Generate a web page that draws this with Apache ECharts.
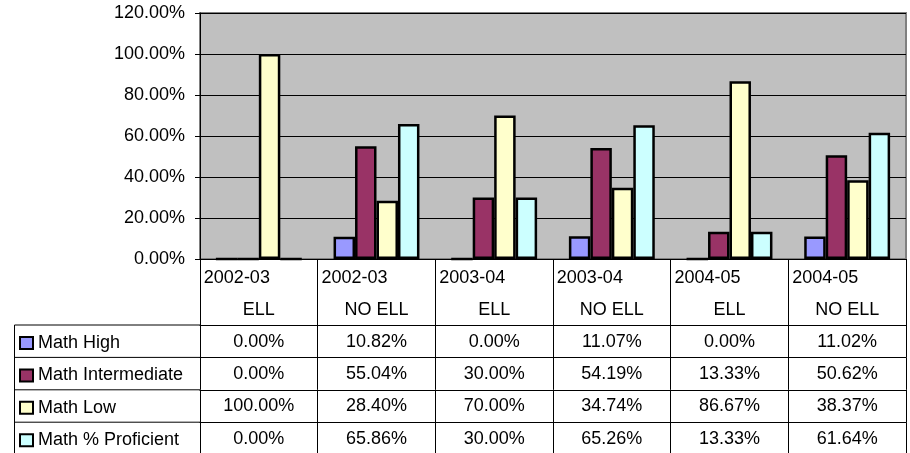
<!DOCTYPE html>
<html>
<head>
<meta charset="utf-8">
<script src="https://cdn.jsdelivr.net/npm/echarts@6/dist/echarts.min.js"></script>
<style>
  html, body { margin: 0; padding: 0; background: #fff; }
  #chart { width: 910px; height: 453px; }
</style>
</head>
<body>
<div id="chart"></div>
<script>
const years = ['2002-03', '2002-03', '2003-04', '2003-04', '2004-05', '2004-05']
const groups = ['ELL', 'NO ELL', 'ELL', 'NO ELL', 'ELL', 'NO ELL']
const seriesNames = ['Math High', 'Math Intermediate', 'Math Low', 'Math % Proficient']
const mathHigh = [0, 10.82, 0, 11.07, 0, 11.02]
const mathIntermediate = [0, 55.04, 30, 54.19, 13.33, 50.62]
const mathLow = [100, 28.40, 70, 34.74, 86.67, 38.37]
const mathProficient = [0, 65.86, 30, 65.26, 13.33, 61.64]
const yTicks = [0, 20, 40, 60, 80, 100, 120]

const values = [mathHigh, mathIntermediate, mathLow, mathProficient]
const colors = ['#9999FF', '#993366', '#FFFFCC', '#CCFFFF']
const cats = years.map((y, i) => y + ' ' + groups[i])

const FONT = 'Liberation Sans, Arial, sans-serif'
const gridLeft = 200, gridTop = 13, gridRight = 4, gridBottomY = 259
const headerH = 66, rowH = 32.4, tableLeft = 14.5

const chart = echarts.init(document.getElementById('chart'))

const fmt = v => v.toFixed(2) + '%'

const valueAxes = values.map((vals, r) => ({
  type: 'category', data: cats, position: 'bottom', gridIndex: 0,
  offset: headerH + r * rowH,
  axisLine: { show: true, lineStyle: { color: '#000', width: 1 } },
  axisTick: { show: true, interval: 0, length: rowH, lineStyle: { color: '#000' } },
  axisLabel: {
    interval: 0, margin: 0.5, color: '#000', fontSize: 18, fontFamily: FONT,
    lineHeight: rowH, verticalAlign: 'top',
    formatter: (v, i) => fmt(vals[i]),
  },
  splitLine: { show: false },
}))

// legend column borders of the data table
const tableLines = []
for (let r = 0; r < values.length; r++) {
  const y = gridBottomY + headerH + r * rowH
  tableLines.push({ type: 'line', shape: { x1: tableLeft, y1: y, x2: gridLeft, y2: y },
    style: { stroke: '#000', lineWidth: 1 } })
}
tableLines.push({ type: 'line',
  shape: { x1: tableLeft, y1: gridBottomY + headerH, x2: tableLeft, y2: 460 },
  style: { stroke: '#000', lineWidth: 1 } })

chart.setOption({
  animation: false,
  textStyle: { fontFamily: FONT },
  grid: {
    left: gridLeft, top: gridTop, right: gridRight, bottom: 453 - gridBottomY,
    outerBoundsMode: 'none',
    show: true, backgroundColor: '#C0C0C0', borderColor: '#808080', borderWidth: 2,
  },
  legend: {
    orient: 'vertical', left: 19, top: 333, padding: 0,
    itemWidth: 13, itemHeight: 12, itemGap: rowH - 20,
    icon: 'rect',
    itemStyle: { borderColor: '#000', borderWidth: 2 },
    textStyle: { fontSize: 18, color: '#000', fontFamily: FONT, lineHeight: 20 },
    data: seriesNames,
  },
  xAxis: [
    {
      type: 'category', data: cats, position: 'bottom', gridIndex: 0,
      axisLine: { show: true, lineStyle: { color: '#000', width: 1 } },
      axisTick: { show: true, interval: 0, length: headerH, lineStyle: { color: '#000' } },
      axisLabel: {
        interval: 0, margin: 3, color: '#000', verticalAlign: 'top',
        formatter: (v, i) => `{y|${years[i]}}\n{g|${groups[i]}}`,
        rich: {
          y: { width: 110, align: 'left', fontSize: 18, lineHeight: 32, fontFamily: FONT, color: '#000' },
          g: { width: 110, align: 'center', fontSize: 18, lineHeight: 32, fontFamily: FONT, color: '#000' },
        },
      },
    },
    ...valueAxes,
  ],
  yAxis: {
    type: 'value', min: 0, max: 120, interval: 20,
    axisLine: { show: true, lineStyle: { color: '#000', width: 1 } },
    axisTick: { show: true, length: 5, lineStyle: { color: '#000' } },
    axisLabel: { color: '#000', fontSize: 18, fontFamily: FONT, margin: 15,
      formatter: v => yTicks.includes(v) ? fmt(v) : '' },
    splitLine: { lineStyle: { color: '#000', width: 1 } },
  },
  series: values.map((vals, s) => ({
    name: seriesNames[s], type: 'bar', xAxisIndex: 0, data: vals,
    barGap: '0%', barCategoryGap: '27%',
    itemStyle: { color: colors[s], borderColor: '#000', borderWidth: 2.5 },
  })),
  graphic: tableLines,
})
</script>
</body>
</html>
